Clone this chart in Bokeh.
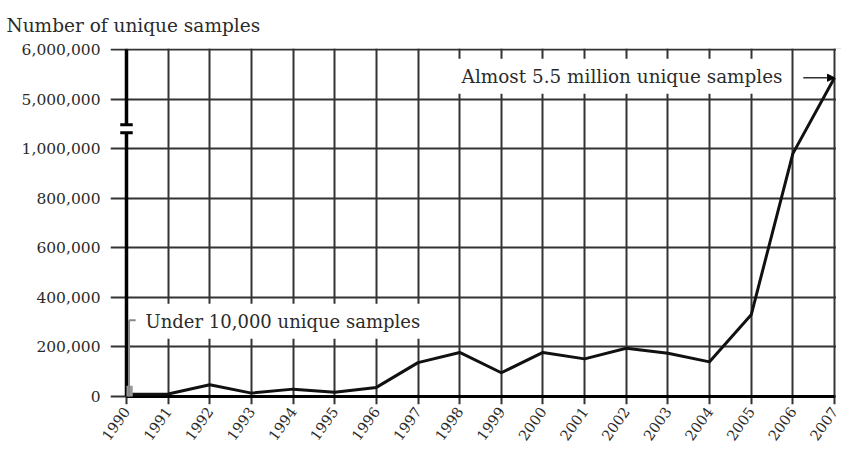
import math
from bokeh.plotting import figure
from bokeh.models import Range1d, FixedTicker, Label, Arrow, NormalHead
from bokeh.embed import file_html
from bokeh.resources import INLINE

# ---- data ----
years = list(range(1990, 2008))
samples = [9000, 10000, 48000, 14000, 30000, 17000, 37000, 137000, 178000, 96000,
           178000, 152000, 195000, 175000, 140000, 330000, 980000, 5430000]
tick_values = [0, 200000, 400000, 600000, 800000, 1000000, 5000000, 6000000]
tick_labels = ["0", "200,000", "400,000", "600,000", "800,000", "1,000,000", "5,000,000", "6,000,000"]
title_text = "Number of unique samples"
note_low = "Under 10,000 unique samples"
note_high = "Almost 5.5 million unique samples"


def pos(v):
    """Broken-axis transform: 0..1M linear (5 units), 1M..5M compressed to 1 unit, 5M..6M 1 unit."""
    if v <= 1_000_000:
        return v / 200_000
    if v <= 5_000_000:
        return 5 + (v - 1_000_000) / 4_000_000
    return 6 + (v - 5_000_000) / 1_000_000


ypos = [pos(v) for v in samples]
tick_pos = [pos(v) for v in tick_values]

FONT = "DejaVu Serif"
TXT = "#2b2b2b"

X0, X1 = 1989.616, 2007.168
p = figure(width=841, height=449, output_backend="svg", toolbar_location=None,
           x_range=Range1d(X0, X1), y_range=Range1d(-0.16, 7.02),
           min_border_left=110, min_border_right=0, min_border_top=45, min_border_bottom=45)
p.outline_line_color = None
p.background_fill_color = "white"
p.border_fill_color = "white"

# title
p.title.text = title_text
p.title.align = "left"
p.title.vertical_align = "bottom"
p.title.offset = -104
p.title.text_font = FONT
p.title.text_font_size = "18.5px"
p.title.text_line_height = 1.0
p.title.text_font_style = "normal"
p.title.text_color = TXT
p.title.standoff = 25

# grids
p.xgrid.ticker = FixedTicker(ticks=years)
p.ygrid.ticker = FixedTicker(ticks=tick_pos)
for g in (p.xgrid, p.ygrid):
    g.grid_line_color = "#333333"
    g.grid_line_width = 2

# axes
p.xaxis.ticker = FixedTicker(ticks=years)
p.yaxis.ticker = FixedTicker(ticks=tick_pos)
p.yaxis.major_label_overrides = {tp: lab for tp, lab in zip(tick_pos, tick_labels)}
for ax in (p.xaxis, p.yaxis):
    ax.axis_line_color = None
    ax.major_tick_line_color = None
    ax.minor_tick_line_color = None
    ax.major_tick_out = 0
    ax.major_tick_in = 0
    ax.minor_tick_out = 0
    ax.minor_tick_in = 0
    ax.major_label_text_font = FONT
    ax.major_label_text_color = TXT
p.yaxis.major_label_text_font_size = "15.5px"
p.yaxis.major_label_standoff = 10
p.xaxis.major_label_text_font_size = "14.5px"
p.xaxis.major_label_orientation = 0.95
p.xaxis.major_label_standoff = 4

# hide grid stubs right of the last year
p.quad(left=years[-1] + 0.035, right=X1 + 1, bottom=-1, top=8, fill_color="white", line_color=None)

# axis lines drawn at 1990 / 0 with a break on the value axis
x0 = years[0]
brk_lo, brk_hi = 5.32, 5.48
p.quad(left=x0 - 0.2, right=x0 + 0.2, bottom=brk_lo, top=brk_hi, fill_color="white", line_color=None)
p.segment(x0=[x0, x0], y0=[0, brk_hi], x1=[x0, x0], y1=[brk_lo, tick_pos[-1]], line_color="black", line_width=3.5)
p.segment(x0=[x0 - 0.15, x0 - 0.15], y0=[brk_lo, brk_hi], x1=[x0 + 0.15, x0 + 0.15], y1=[brk_lo, brk_hi],
          line_color="black", line_width=3)
p.segment(x0=[x0], y0=[0], x1=[years[-1]], y1=[0], line_color="black", line_width=3)

# data line
p.line(years, ypos, line_color="#111111", line_width=3, line_join="round")

# low note leader
p.quad(left=x0, right=x0 + 0.15, bottom=0, top=0.22, fill_color="#999999", line_color=None)
p.segment(x0=[x0 + 0.06, x0 + 0.06], y0=[0, 1.54], x1=[x0 + 0.06, x0 + 0.22], y1=[1.54, 1.54],
          line_color="#888888", line_width=2)
p.add_layout(Label(x=x0 + 0.29, y=1.52, text=note_low, text_font=FONT, text_font_size="18px",
                   text_color=TXT, text_baseline="middle", background_fill_color="white",
                   padding=7))

# high note
p.add_layout(Label(x=2005.92, y=6.46, text=note_high, text_font=FONT, text_font_size="18.4px",
                   text_color=TXT, text_baseline="middle", text_align="right",
                   background_fill_color="white", padding=7))
p.add_layout(Arrow(end=NormalHead(size=7, fill_color="black", line_color="black"),
                   x_start=2006.25, y_start=ypos[-1], x_end=years[-1], y_end=ypos[-1],
                   line_color="#333333", line_width=1.5))

open("out.html", "w").write(file_html(p, INLINE))
